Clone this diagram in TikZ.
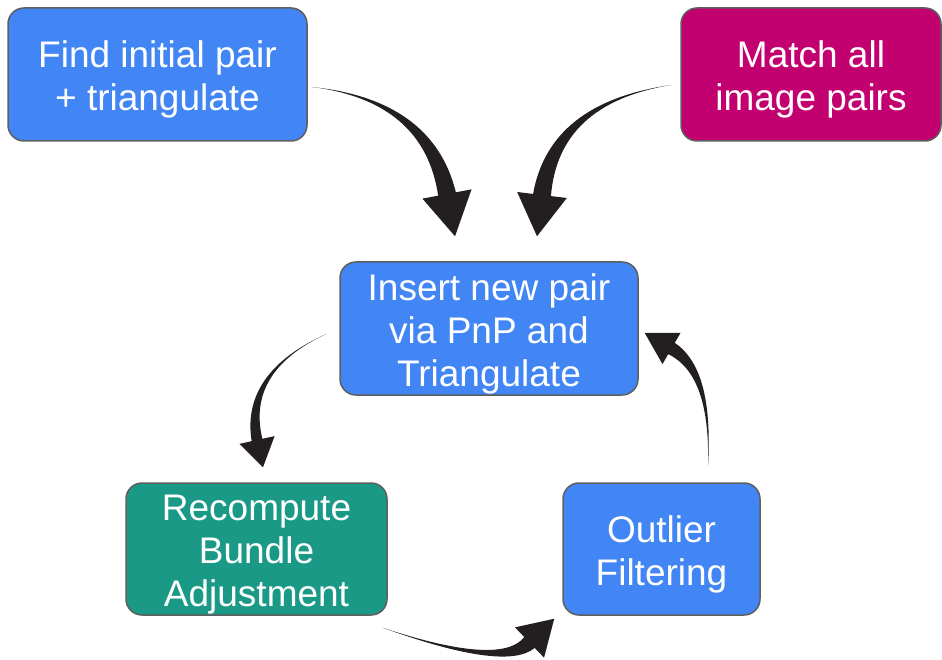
\documentclass[tikz,border=0pt]{standalone}
\usepackage{fontspec}
\setmainfont{Liberation Sans}
\usetikzlibrary{calc}
\definecolor{stepblue}{HTML}{4285F4}
\definecolor{stepmagenta}{HTML}{C2006F}
\definecolor{stepteal}{HTML}{1A9A86}
\definecolor{stepborder}{HTML}{5F5F5F}
\definecolor{arrowink}{HTML}{231F20}
% box text, set a little lower than centred
\newcommand{\steplines}[1]{\raisebox{-6pt}[\height][\depth]{\begin{tabular}{@{}c@{}}#1\end{tabular}}}
% tapered bent arrow: start, control, head base, tip, shaft half width, head half width
\newcommand{\bentarrow}[6]{%
  \path ($(#3)!#5!90:(#4)$) coordinate (ba) ($(#3)!#5!-90:(#4)$) coordinate (bb);
  \fill[arrowink] (#1)
    .. controls ($0.333*(#1)+0.667*(#2)+0.333*(ba)-0.333*(#3)$)
    and ($0.667*(#2)+0.667*(ba)-0.333*(#3)$) .. (ba)
    -- ($(#3)!#6!90:(#4)$) -- (#4) -- ($(#3)!#6!-90:(#4)$) -- (bb)
    .. controls ($0.667*(#2)+0.667*(bb)-0.333*(#3)$)
    and ($0.333*(#1)+0.667*(#2)+0.333*(bb)-0.333*(#3)$) .. cycle;}

\begin{document}
\begin{tikzpicture}[x=1pt,y=-1pt,
    stepbox/.style={draw=stepborder, line width=1.5pt, rounded corners=16pt,
      text=white, inner sep=0pt,
      font=\fontsize{37}{43}\selectfont}]
  \useasboundingbox (0,0) rectangle (942,660);

  \node[stepbox, fill=stepblue, minimum width=299pt, minimum height=133pt]
    (find) at (157.5,74.5) {\steplines{Find initial pair\\+ triangulate}};
  \node[stepbox, fill=stepmagenta, minimum width=260pt, minimum height=133pt]
    (match) at (811,74.5) {\steplines{Match all\\image pairs}};
  \node[stepbox, fill=stepblue, minimum width=298pt, minimum height=133pt]
    (insert) at (489,328.5) {\steplines{Insert new pair\\via PnP and\\Triangulate}};
  \node[stepbox, fill=stepteal, minimum width=261pt, minimum height=132pt]
    (recompute) at (256.5,549) {\steplines{Recompute\\Bundle\\Adjustment}};
  \node[stepbox, fill=stepblue, minimum width=197pt, minimum height=132pt]
    (outlier) at (661.5,549) {\steplines{Outlier\\Filtering}};

  % arrow ends
  \coordinate (s1) at ($(find.east)+(4,12.5)$);
  \coordinate (t1) at ($(insert.north)+(-34,-25)$);
  \coordinate (s2) at ($(match.west)+(-9,10.5)$);
  \coordinate (t2) at ($(insert.north)+(48,-25)$);
  \coordinate (s3) at ($(insert.west)+(-13,5.5)$);
  \coordinate (t3) at ($(recompute.north)+(6.5,-15)$);
  \coordinate (s4) at ($(recompute.south east)+(-5,12)$);
  \coordinate (t4) at ($(outlier.south west)+(-8,3)$);
  \coordinate (s5) at ($(outlier.north)+(46.5,-16)$);
  \coordinate (t5) at ($(insert.east)+(6,4.5)$);

  \bentarrow{s1}{428,100}{447,194}{t1}{9pt}{25pt}
  \bentarrow{s2}{553,103}{542,195}{t2}{9pt}{25pt}
  \bentarrow{s3}{243,372}{257,440}{t3}{5.5pt}{18pt}
  \bentarrow{s4}{502,669}{529.5,642.5}{t4}{7.5pt}{21pt}
  \bentarrow{s5}{712,372}{671.5,348.5}{t5}{6.5pt}{18pt}
\end{tikzpicture}
\end{document}
